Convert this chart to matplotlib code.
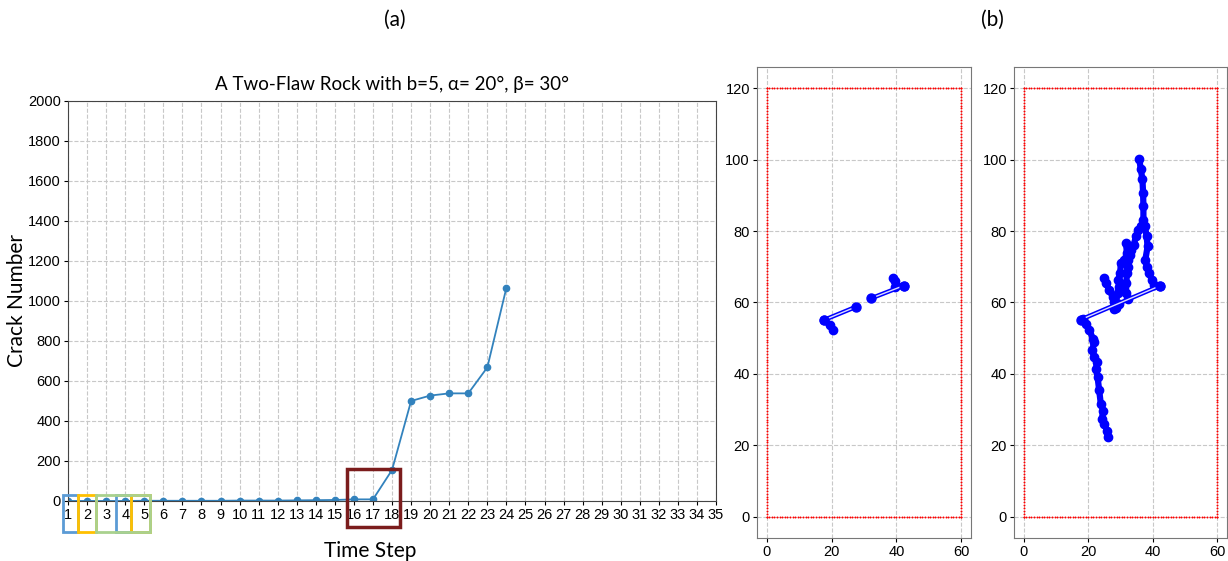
import numpy as np
import matplotlib
matplotlib.use("Agg")
import matplotlib.pyplot as plt
from matplotlib.patches import Rectangle

# crack count per time step
steps = np.arange(1, 25)
crack_number = [0, 0, 0, 0, 1, 1, 1, 1, 1, 2, 2, 2, 3, 4, 5, 8, 8, 155,
                500, 527, 538, 538, 668, 1066]

# specimen outline (width x height) and boundary particle spacing
box_w, box_h, spacing = 60, 120, 0.8

# pre-existing flaws (x0, y0, x1, y1)
flaws_early = [(17.7, 55.1, 27.6, 58.8), (32.3, 61.2, 42.2, 64.7)]
flaws_late = [(17.7, 55.2, 42.3, 64.7)]

# crack traces at the early step
early_cracks = [
    ([17.7, 19.5, 20.5], [55.1, 53.7, 52.4]),
    ([42.2, 39.7, 39.5, 39.0], [64.7, 64.4, 65.9, 66.8]),
]

# crack traces at the late step
late_cracks = [
    ([18.3, 19.3, 20.4, 21.4, 21.9, 21.2, 21.9, 22.7, 22.4, 22.9, 23.4, 23.9,
      24.7, 24.2, 25.0, 25.8, 26.0],
     [55.5, 54.1, 52.3, 49.9, 49.0, 46.6, 44.7, 43.3, 41.5, 39.1, 35.4, 31.6,
      29.7, 27.4, 26.0, 24.1, 22.2]),
    ([32.2, 31.7, 31.8, 32.0, 32.2, 32.4, 32.9, 33.4, 34.1, 34.8, 35.5, 36.5,
      37.1, 37.1, 37.0, 36.8, 36.3, 35.8],
     [60.9, 62.6, 65.4, 68.2, 70.0, 71.9, 73.4, 74.8, 76.2, 78.5, 80.4, 81.3,
      83.2, 87.0, 90.7, 94.5, 97.3, 100.3]),
    ([37.6, 38.1, 38.4, 37.7, 38.1, 38.9, 39.7, 40.4, 42.2],
     [81.3, 78.5, 75.7, 72.0, 70.0, 68.2, 66.3, 64.9, 64.7]),
    ([31.7, 32.0, 31.2, 30.1, 29.9, 29.3, 29.6, 29.1, 28.6, 28.1],
     [76.6, 73.8, 71.9, 71.0, 68.2, 66.3, 64.4, 62.6, 59.8, 58.3]),
    ([25.0, 25.5, 26.5, 27.6, 28.1, 28.6, 29.5],
     [66.8, 65.4, 63.5, 61.6, 60.2, 58.5, 59.5]),
]

tick_font = ['Liberation Sans', 'DejaVu Sans']
label_font = ['Lato', 'DejaVu Sans']

fig = plt.figure(figsize=(12.28, 5.61), dpi=100)

# ---- (a) crack number vs time step ----
ax = fig.add_axes([0.0554, 0.107, 0.5277, 0.713])
ax.plot(steps, crack_number, color='#3282bd', lw=1.3, marker='o', ms=4.5)
ax.set_xlim(1, 35)
ax.set_ylim(0, 2000)
ax.set_xticks(np.arange(1, 36))
ax.set_yticks(np.arange(0, 2001, 200))
ax.grid(True, color='#c8c8c8', ls='--', lw=0.8)
ax.tick_params(labelsize=10.5, length=3, pad=2)
for lab in ax.get_xticklabels() + ax.get_yticklabels():
    lab.set_family(tick_font)
for sp in ax.spines.values():
    sp.set_color('#444444')
ax.set_title('A Two-Flaw Rock with b=5, α= 20°, β= 30°', family=label_font,
             fontsize=13.5, pad=8)
ax.set_ylabel('Crack Number', family=label_font, fontsize=15)
ax.set_xlabel('Time Step', family=label_font, fontsize=15)
ax.yaxis.set_label_coords(-0.063, 0.5)
ax.xaxis.set_label_coords(0.466, -0.1)

# highlight boxes around the first steps and the onset of cracking
for x0, x1, col in [(0.74, 1.52, '#5b9bd5'), (1.52, 2.47, '#ffc000'),
                    (3.52, 4.31, '#5b9bd5'), (4.31, 5.30, '#ffc000'),
                    (2.47, 5.30, '#a9d18e')]:
    ax.add_patch(Rectangle((x0, -155), x1 - x0, 185, fill=False, ec=col,
                           lw=2, clip_on=False, zorder=5))
ax.add_patch(Rectangle((15.62, -130), 2.8, 290, fill=False, ec='#7b1c1c',
                       lw=2.5, clip_on=False, zorder=5))

# ---- (b) crack patterns ----
edge_x = np.arange(0, box_w + spacing / 2, spacing)
edge_y = np.arange(0, box_h + spacing / 2, spacing)
bx = np.concatenate([edge_x, edge_x, np.zeros_like(edge_y), np.full_like(edge_y, box_w)])
by = np.concatenate([np.zeros_like(edge_x), np.full_like(edge_x, box_h), edge_y, edge_y])


def draw_pattern(a, flaws, cracks):
    a.plot(bx, by, ls='none', marker='o', ms=1.4, mew=0, color='red')
    for xs, ys in cracks:
        a.plot(xs, ys, color='blue', lw=4.5, marker='o', ms=6,
               solid_capstyle='round', solid_joinstyle='round')
    for x0, y0, x1, y1 in flaws:
        a.plot([x0, x1], [y0, y1], color='blue', lw=3.2)
        a.plot([x0, x1], [y0, y1], color='#dcdcff', lw=1.0)
        a.plot([x0, x1], [y0, y1], ls='none', marker='o', ms=6.5, color='blue')
    a.set_xlim(-3, 63)
    a.set_ylim(-6, 126)
    a.set_xticks([0, 20, 40, 60])
    a.set_yticks(np.arange(0, 121, 20))
    a.grid(True, color='#c8c8c8', ls='--', lw=0.8)
    a.tick_params(labelsize=10.5, length=3, pad=2)
    for lab in a.get_xticklabels() + a.get_yticklabels():
        lab.set_family(tick_font)
    for sp in a.spines.values():
        sp.set_color('#777777')


ax1 = fig.add_axes([0.6164, 0.041, 0.1743, 0.8396])
draw_pattern(ax1, flaws_early, early_cracks)
ax2 = fig.add_axes([0.8257, 0.041, 0.1735, 0.8396])
draw_pattern(ax2, flaws_late, late_cracks)

fig.text(0.3217, 0.964, '(a)', ha='center', va='center', family=label_font, fontsize=15)
fig.text(0.8078, 0.964, '(b)', ha='center', va='center', family=label_font, fontsize=15)

fig.savefig('out.png', dpi=100)
